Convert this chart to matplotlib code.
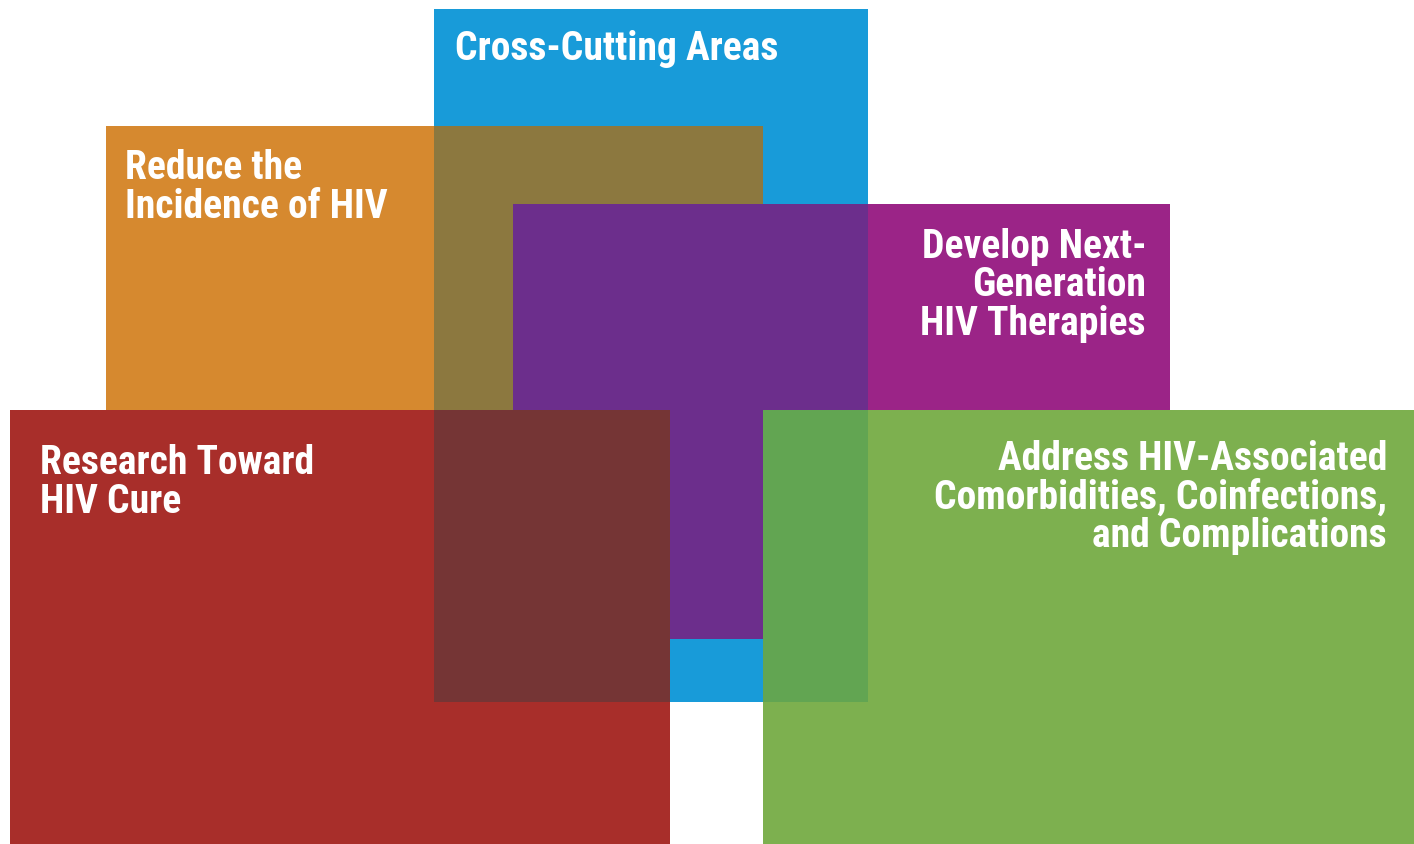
import matplotlib
matplotlib.use("Agg")
import matplotlib.pyplot as plt
from matplotlib.patches import Rectangle

# ---- data (pixel coordinates in a 1414 x 845 canvas, y downward) ----
labels = ["Cross-Cutting Areas",
          "Reduce the\nIncidence of HIV",
          "Develop Next-\nGeneration\nHIV Therapies",
          "Research Toward\nHIV Cure",
          "Address HIV-Associated\nComorbidities, Coinfections,\nand Complications"]
left   = [434, 106, 513, 10, 763]
right  = [868, 763, 1170, 670, 1414]
top    = [10, 127, 205, 411, 411]
bottom = [703, 411, 640, 845, 845]
colors = ["#189bd9", "#d6892f", "#9b2487", "#a82e2a", "#7db04f"]
over_blue = [None, "#8c783f", "#6c2e8c", "#753535", "#62a552"]
text_x = [455, 125, 1146, 40, 1387]
text_y = [60, 218, 335, 513, 547]     # last-line baselines
text_ha = ["left", "left", "right", "left", "right"]

W, H = 1414, 845
fig = plt.figure(figsize=(W / 100, H / 100), dpi=100)
ax = fig.add_axes([0, 0, 1, 1])
ax.set_xlim(0, W)
ax.set_ylim(H, 0)
ax.axis("off")

# base (blue) rectangle
ax.add_patch(Rectangle((left[0], top[0]), right[0] - left[0], bottom[0] - top[0],
                       facecolor=colors[0], edgecolor="none", zorder=1))
z = 2
for i in range(1, len(labels)):
    ax.add_patch(Rectangle((left[i], top[i]), right[i] - left[i], bottom[i] - top[i],
                           facecolor=colors[i], edgecolor="none", zorder=z))
    # overlap with the cross-cutting rectangle
    ix0, ix1 = max(left[i], left[0]), min(right[i], right[0])
    iy0, iy1 = max(top[i], top[0]), min(bottom[i], bottom[0])
    if ix1 > ix0 and iy1 > iy0:
        ax.add_patch(Rectangle((ix0, iy0), ix1 - ix0, iy1 - iy0,
                               facecolor=over_blue[i], edgecolor="none", zorder=z + 0.5))
    z += 1

for i, lab in enumerate(labels):
    ax.text(text_x[i], text_y[i], lab, ha=text_ha[i], va="baseline",
            multialignment=text_ha[i], color="white", fontsize=28.5,
            fontweight="bold", family=["Roboto Condensed", "DejaVu Sans"],
            linespacing=1.02, zorder=20)

fig.savefig("out.png", dpi=100)
